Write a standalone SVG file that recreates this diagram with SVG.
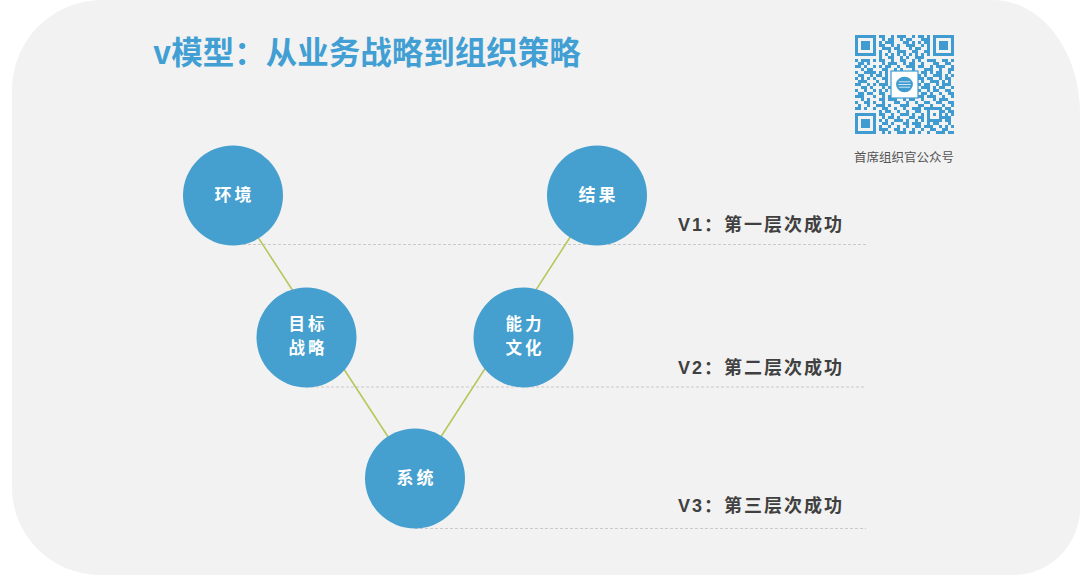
<svg xmlns="http://www.w3.org/2000/svg" width="1080" height="576" viewBox="0 0 1080 576">
<style>
.node circle{fill:#459fcf}
.node text{font-family:"Noto Sans CJK SC",sans-serif;font-size:17px;font-weight:700;fill:#fff;text-anchor:middle;letter-spacing:3px}
.node text.two{font-size:16.5px}
.lvl{font-family:"Liberation Sans","Noto Sans CJK SC",sans-serif;font-size:18px;font-weight:700;fill:#404040;letter-spacing:2px}
.dash{stroke:#c9c9c9;stroke-width:1;stroke-dasharray:3 2;fill:none}
.conn{stroke:#b7c65a;stroke-width:1.6;fill:none}
.qr{fill:#3f9bd0}
</style>
<rect x="0" y="0" width="1080" height="576" fill="#ffffff"/>
<path d="M102 0 H993 A87 113 0 0 1 1080 113 V509 A67 67 0 0 1 1013 575 H100 A88 88 0 0 1 12 487 V90 A90 90 0 0 1 102 0 Z" fill="#f2f2f2"/>

<text id="title" x="153" y="64" font-family="Noto Sans CJK SC, sans-serif" font-size="31.5" font-weight="700" fill="#419fd3">v模型：从业务战略到组织策略</text>

<g id="qrcode">
  <g transform="translate(855,35) scale(3)">
    <path stroke="#3f9bd0" stroke-width="1" fill="none" d="M8 0.5h2M12 0.5h1M14 0.5h3M19 0.5h1M21 0.5h2M24 0.5h1
M9 1.5h1M11 1.5h2M15 1.5h1M17 1.5h2M22 1.5h3
M8 2.5h1M10 2.5h3M16 2.5h2M19 2.5h1M21 2.5h1M23 2.5h2
M8 3.5h2M12 3.5h1M14 3.5h1M17 3.5h3M22 3.5h1M24 3.5h1
M9 4.5h3M13 4.5h2M18 4.5h1M20 4.5h2M24 4.5h1
M8 5.5h1M11 5.5h1M14 5.5h3M19 5.5h2M23 5.5h2
M8 6.5h1M10 6.5h1M12 6.5h1M14 6.5h1M16 6.5h1M18 6.5h1M20 6.5h1M22 6.5h1M24 6.5h1
M8 7.5h1M11 7.5h2M15 7.5h1M17 7.5h1M20 7.5h3
M0 8.5h1M2 8.5h3M6 8.5h1M8 8.5h2M12 8.5h1M15 8.5h2M19 8.5h1M21 8.5h1M24 8.5h3M29 8.5h2M32 8.5h1
M1 9.5h2M4 9.5h1M9 9.5h1M11 9.5h3M16 9.5h1M18 9.5h2M22 9.5h1M26 9.5h2M30 9.5h2
M0 10.5h2M3 10.5h1M6 10.5h1M8 10.5h1M10 10.5h2M14 10.5h1M17 10.5h3M21 10.5h2M25 10.5h1M27 10.5h3M32 10.5h1
M2 11.5h1M4 11.5h2M9 11.5h2M13 11.5h1M15 11.5h1M19 11.5h1M23 11.5h3M28 11.5h1M31 11.5h2
M0 12.5h1M3 12.5h3M6 12.5h1M8 12.5h1M10 12.5h1M22 12.5h2M25 12.5h1M27 12.5h2M31 12.5h1
M1 13.5h2M5 13.5h1M7 13.5h2M10 13.5h1M21 13.5h1M23 13.5h1M26 13.5h3M30 13.5h1M32 13.5h1
M0 14.5h1M2 14.5h1M4 14.5h1M6 14.5h1M9 14.5h2M21 14.5h2M24 14.5h2M28 14.5h1M30 14.5h2
M1 15.5h3M7 15.5h1M10 15.5h1M22 15.5h1M25 15.5h3M29 15.5h1M31 15.5h1
M0 16.5h2M4 16.5h1M6 16.5h1M8 16.5h3M21 16.5h1M23 16.5h2M27 16.5h1M29 16.5h3
M2 17.5h2M5 17.5h1M9 17.5h1M11 17.5h1M22 17.5h3M26 17.5h1M28 17.5h2M32 17.5h1
M0 18.5h1M3 18.5h1M6 18.5h1M8 18.5h1M10 18.5h1M21 18.5h1M24 18.5h1M26 18.5h2M30 18.5h2
M1 19.5h2M4 19.5h2M8 19.5h2M22 19.5h2M25 19.5h1M28 19.5h1M31 19.5h2
M0 20.5h3M6 20.5h1M9 20.5h1M11 20.5h1M21 20.5h2M24 20.5h3M29 20.5h1M32 20.5h1
M2 21.5h1M4 21.5h1M8 21.5h2M11 21.5h3M16 21.5h1M18 21.5h2M22 21.5h1M26 21.5h1M28 21.5h3
M0 22.5h1M3 22.5h2M6 22.5h1M9 22.5h1M13 22.5h2M17 22.5h1M20 22.5h1M23 22.5h2M27 22.5h2M31 22.5h2
M1 23.5h1M4 23.5h1M7 23.5h3M11 23.5h1M15 23.5h3M21 23.5h2M25 23.5h1M29 23.5h1M32 23.5h1
M0 24.5h2M3 24.5h1M6 24.5h1M9 24.5h2M13 24.5h1M16 24.5h1M19 24.5h3M23 24.5h1M30 24.5h2
M8 25.5h1M10 25.5h2M14 25.5h1M17 25.5h1M20 25.5h2M29 25.5h1M31 25.5h2
M8 26.5h2M12 26.5h1M15 26.5h3M19 26.5h1M22 26.5h1M30 26.5h1M32 26.5h1
M9 27.5h1M11 27.5h2M14 27.5h1M18 27.5h2M21 27.5h2M29 27.5h3
M8 28.5h1M10 28.5h1M13 28.5h3M17 28.5h1M20 28.5h1M22 28.5h1M30 28.5h2
M9 29.5h2M12 29.5h1M16 29.5h2M19 29.5h3M24 29.5h1M26 29.5h2M31 29.5h1
M8 30.5h1M11 30.5h1M14 30.5h1M17 30.5h1M20 30.5h2M23 30.5h3M28 30.5h1M30 30.5h1M32 30.5h1
M8 31.5h3M13 31.5h2M16 31.5h1M19 31.5h1M22 31.5h1M25 31.5h2M29 31.5h2
M9 32.5h1M11 32.5h1M14 32.5h3M18 32.5h2M21 32.5h1M24 32.5h1M27 32.5h3M31 32.5h2"/>
    <g class="qr">
      <path fill-rule="evenodd" d="M0 0h7v7h-7z M1 1v5h5v-5z M2 2h3v3h-3z"/>
      <path fill-rule="evenodd" d="M26 0h7v7h-7z M27 1v5h5v-5z M28 2h3v3h-3z"/>
      <path fill-rule="evenodd" d="M0 26h7v7h-7z M1 27v5h5v-5z M2 28h3v3h-3z"/>
      <path fill-rule="evenodd" d="M24 24h5v5h-5z M25 25v3h3v-3z M26 26h1v1h-1z"/>
    </g>
    <rect x="12" y="12" width="9" height="9" fill="#ffffff" stroke="#3f9bd0" stroke-width="0.4"/>
    <ellipse cx="16.5" cy="16.5" rx="2.8" ry="2.6" fill="#3f9bd0"/>
    <path d="M14.6 15.6h3.8M14.4 16.5h4.2M14.6 17.4h3.8" stroke="#ffffff" stroke-width="0.25"/>
  </g>
  <text x="904" y="162" font-family="Noto Sans CJK SC, sans-serif" font-size="12.5" fill="#555555" text-anchor="middle">首席组织官公众号</text>
</g>

<g id="levels">
  <line class="dash" x1="233" y1="244.5" x2="866" y2="244.5"/>
  <line class="dash" x1="306" y1="387" x2="866" y2="387"/>
  <line class="dash" x1="415" y1="528.5" x2="866" y2="528.5"/>
  <text id="v1" class="lvl" x="678" y="231">V1：第一层次成功</text>
  <text id="v2" class="lvl" x="678" y="374">V2：第二层次成功</text>
  <text id="v3" class="lvl" x="678" y="512">V3：第三层次成功</text>
</g>

<g id="connectors">
  <line class="conn" x1="250" y1="225" x2="396" y2="449"/>
  <line class="conn" x1="433" y1="449" x2="578" y2="225"/>
</g>

<g id="node-huanjing" class="node">
  <circle cx="233" cy="195.5" r="50"/>
  <text x="234.5" y="201">环境</text>
</g>
<g id="node-mubiao" class="node">
  <circle cx="306.5" cy="337.5" r="50"/>
  <text class="two" x="308" y="330">目标</text>
  <text class="two" x="308" y="354">战略</text>
</g>
<g id="node-xitong" class="node">
  <circle cx="415" cy="478.5" r="50"/>
  <text x="416.5" y="484">系统</text>
</g>
<g id="node-nengli" class="node">
  <circle cx="523.5" cy="337.5" r="50"/>
  <text class="two" x="525" y="330">能力</text>
  <text class="two" x="525" y="354">文化</text>
</g>
<g id="node-jieguo" class="node">
  <circle cx="597" cy="195.5" r="50"/>
  <text x="598.5" y="201">结果</text>
</g>
</svg>
